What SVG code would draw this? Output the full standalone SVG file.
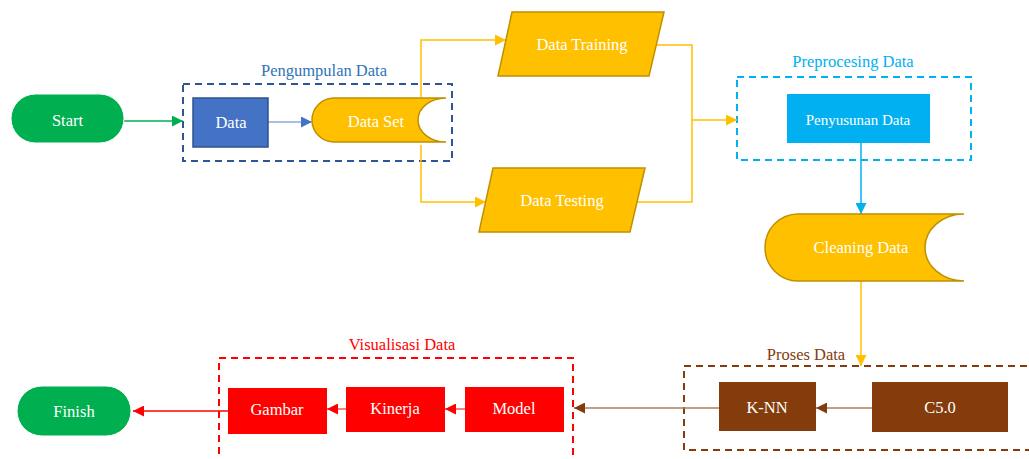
<svg xmlns="http://www.w3.org/2000/svg" width="1029" height="459" viewBox="0 0 1029 459">
<defs>
<style>
text{font-family:"Liberation Serif","Times New Roman",serif;font-size:16.5px;text-anchor:middle}
.w{fill:#ffffff}
.grp{fill:none;stroke-width:2;stroke-dasharray:7 5}
.ln{fill:none;stroke-width:1.5}
</style>
<marker id="aG" viewBox="0 0 10 10" refX="10" refY="5" markerWidth="11" markerHeight="11" markerUnits="userSpaceOnUse" orient="auto"><path d="M0 0L10 5L0 10Z" fill="#00B050"/></marker>
<marker id="aB" viewBox="0 0 10 10" refX="10" refY="5" markerWidth="11" markerHeight="11" markerUnits="userSpaceOnUse" orient="auto"><path d="M0 0L10 5L0 10Z" fill="#4472C4"/></marker>
<marker id="aY" viewBox="0 0 10 10" refX="10" refY="5" markerWidth="11" markerHeight="11" markerUnits="userSpaceOnUse" orient="auto"><path d="M0 0L10 5L0 10Z" fill="#FFC000"/></marker>
<marker id="aC" viewBox="0 0 10 10" refX="10" refY="5" markerWidth="11" markerHeight="11" markerUnits="userSpaceOnUse" orient="auto"><path d="M0 0L10 5L0 10Z" fill="#00B0F0"/></marker>
<marker id="aN" viewBox="0 0 10 10" refX="10" refY="5" markerWidth="11" markerHeight="11" markerUnits="userSpaceOnUse" orient="auto"><path d="M0 0L10 5L0 10Z" fill="#843C0C"/></marker>
<marker id="aR" viewBox="0 0 10 10" refX="10" refY="5" markerWidth="11" markerHeight="11" markerUnits="userSpaceOnUse" orient="auto"><path d="M0 0L10 5L0 10Z" fill="#FF0000"/></marker>
</defs>
<rect width="1029" height="459" fill="#ffffff"/>

<g id="group-pengumpulan">
<rect class="grp" x="183" y="84" width="269" height="77" stroke="#2F5597"/>
<text x="324" y="76" fill="#2E75B6">Pengumpulan Data</text>
</g>
<g id="group-preprocessing">
<rect class="grp" x="737" y="77" width="234" height="83" stroke="#00B0F0"/>
<text x="853" y="67" fill="#00B0F0">Preprocesing Data</text>
</g>
<g id="group-proses">
<rect class="grp" x="684" y="366" width="360" height="84" stroke="#843C0C"/>
<text x="806" y="360" fill="#843C0C">Proses Data</text>
</g>
<g id="group-visualisasi">
<rect class="grp" x="219" y="358" width="354" height="120" stroke="#FF0000"/>
<text x="402" y="350" fill="#FF0000">Visualisasi Data</text>
</g>

<g id="connectors">
<line class="ln" x1="124" y1="121" x2="183" y2="121" stroke="#00B050" marker-end="url(#aG)"/>
<line class="ln" x1="268" y1="122" x2="312" y2="122" stroke="#8FAADC" marker-end="url(#aB)"/>
<polyline class="ln" points="421,97 421,40 506,40" stroke="#FFC000" marker-end="url(#aY)"/>
<polyline class="ln" points="421,145 421,202 486,202" stroke="#FFC000" marker-end="url(#aY)"/>
<polyline class="ln" points="656,45 692,45 692,202 637,202" stroke="#FFC000"/>
<line class="ln" x1="692" y1="120" x2="737" y2="120" stroke="#FFC000" marker-end="url(#aY)"/>
<line class="ln" x1="861" y1="143" x2="861" y2="214" stroke="#00B0F0" marker-end="url(#aC)"/>
<line class="ln" x1="861" y1="281" x2="861" y2="366" stroke="#FFC000" marker-end="url(#aY)"/>
<line class="ln" x1="872" y1="408" x2="816" y2="408" stroke="#A9805E" marker-end="url(#aN)"/>
<line class="ln" x1="719" y1="408" x2="574" y2="408" stroke="#A9805E" marker-end="url(#aN)"/>
<line class="ln" x1="465" y1="409" x2="445" y2="409" stroke="#FF5050" marker-end="url(#aR)"/>
<line class="ln" x1="346" y1="409" x2="327" y2="409" stroke="#FF5050" marker-end="url(#aR)"/>
<line class="ln" x1="228" y1="411" x2="133" y2="411" stroke="#FF0000" marker-end="url(#aR)"/>
</g>

<g id="node-start">
<rect x="11" y="94" width="113" height="49" rx="24.5" fill="#00B050" stroke="#ffffff" stroke-width="1"/>
<text class="w" x="67.5" y="126">Start</text>
</g>
<g id="node-data">
<rect x="193" y="98" width="75" height="49" fill="#4472C4" stroke="#2F528F" stroke-width="1.5"/>
<text class="w" x="231" y="127.5">Data</text>
</g>
<g id="node-dataset">
<path d="M334 98H446A28 22 0 0 0 418 120A28 22 0 0 0 446 142H334A22 22 0 0 1 312 120A22 22 0 0 1 334 98Z" fill="#FFC000" stroke="#BF9000" stroke-width="1.5"/>
<text class="w" x="376" y="127">Data Set</text>
</g>
<g id="node-training">
<polygon points="512,12 664,12 649,76 498,76" fill="#FFC000" stroke="#BF9000" stroke-width="1.5"/>
<text class="w" x="582" y="50">Data Training</text>
</g>
<g id="node-testing">
<polygon points="493,168 645,168 630,232 479,232" fill="#FFC000" stroke="#BF9000" stroke-width="1.5"/>
<text class="w" x="562" y="206">Data Testing</text>
</g>
<g id="node-penyusunan">
<rect x="787" y="94" width="143" height="49" fill="#00B0F0"/>
<text class="w" x="858" y="125" style="font-size:15px">Penyusunan Data</text>
</g>
<g id="node-cleaning">
<path d="M798 214H964A39 33.5 0 0 0 925 247.5A39 33.5 0 0 0 964 281H798A33 33.5 0 0 1 765 247.5A33 33.5 0 0 1 798 214Z" fill="#FFC000" stroke="#BF9000" stroke-width="1.5"/>
<text class="w" x="861" y="253">Cleaning Data</text>
</g>
<g id="node-knn">
<rect x="719" y="382" width="97" height="49" fill="#843C0C"/>
<text class="w" x="767" y="413">K-NN</text>
</g>
<g id="node-c50">
<rect x="872" y="382" width="136" height="50" fill="#843C0C"/>
<text class="w" x="940" y="413">C5.0</text>
</g>
<g id="node-model">
<rect x="465" y="387" width="99" height="45" fill="#FF0000"/>
<text class="w" x="514" y="414">Model</text>
</g>
<g id="node-kinerja">
<rect x="346" y="387" width="99" height="45" fill="#FF0000"/>
<text class="w" x="395" y="414">Kinerja</text>
</g>
<g id="node-gambar">
<rect x="228" y="388" width="99" height="46" fill="#FF0000"/>
<text class="w" x="277" y="415">Gambar</text>
</g>
<g id="node-finish">
<rect x="17" y="386" width="114" height="50" rx="25" fill="#00B050" stroke="#ffffff" stroke-width="1"/>
<text class="w" x="74" y="417">Finish</text>
</g>
</svg>
